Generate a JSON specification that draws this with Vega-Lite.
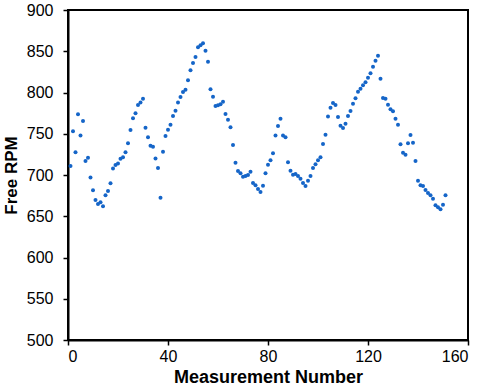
{
  "$schema": "https://vega.github.io/schema/vega-lite/v6.json",
  "width": 400,
  "height": 330,
  "autosize": "none",
  "padding": {"left": 68, "top": 10, "right": 16, "bottom": 46},
  "background": "white",
  "config": {
    "view": {"stroke": "black", "strokeWidth": 2},
    "font": "Liberation Sans"
  },
  "data": {
    "values": [
      {"n": 1, "rpm": 711}, {"n": 2, "rpm": 753}, {"n": 3, "rpm": 727.5}, {"n": 4, "rpm": 773.6}, {"n": 5, "rpm": 748},
      {"n": 6, "rpm": 765.5}, {"n": 7, "rpm": 717}, {"n": 8, "rpm": 721}, {"n": 9, "rpm": 697}, {"n": 10, "rpm": 681.4},
      {"n": 11, "rpm": 669.7}, {"n": 12, "rpm": 665}, {"n": 13, "rpm": 667}, {"n": 14, "rpm": 662}, {"n": 15, "rpm": 675.4},
      {"n": 16, "rpm": 680.6}, {"n": 17, "rpm": 690}, {"n": 18, "rpm": 708}, {"n": 19, "rpm": 712}, {"n": 20, "rpm": 714},
      {"n": 21, "rpm": 719.8}, {"n": 22, "rpm": 721.5}, {"n": 23, "rpm": 727.5}, {"n": 24, "rpm": 738.4}, {"n": 25, "rpm": 754.5},
      {"n": 26, "rpm": 768.7}, {"n": 27, "rpm": 775}, {"n": 28, "rpm": 784.8}, {"n": 29, "rpm": 788}, {"n": 30, "rpm": 792.5},
      {"n": 31, "rpm": 757.3}, {"n": 32, "rpm": 745.7}, {"n": 33, "rpm": 735.6}, {"n": 34, "rpm": 734.3}, {"n": 35, "rpm": 720},
      {"n": 36, "rpm": 708.5}, {"n": 37, "rpm": 672.5}, {"n": 38, "rpm": 728.3}, {"n": 39, "rpm": 747.3}, {"n": 40, "rpm": 755},
      {"n": 41, "rpm": 761}, {"n": 42, "rpm": 771.5}, {"n": 43, "rpm": 778}, {"n": 44, "rpm": 788}, {"n": 45, "rpm": 794.5},
      {"n": 46, "rpm": 800.6}, {"n": 47, "rpm": 803.4}, {"n": 48, "rpm": 815}, {"n": 49, "rpm": 827}, {"n": 50, "rpm": 835.8},
      {"n": 51, "rpm": 843}, {"n": 52, "rpm": 854.8}, {"n": 53, "rpm": 857.2}, {"n": 54, "rpm": 859.6}, {"n": 55, "rpm": 850.7},
      {"n": 56, "rpm": 837.4}, {"n": 57, "rpm": 803.9}, {"n": 58, "rpm": 795}, {"n": 59, "rpm": 783.6}, {"n": 60, "rpm": 784.5},
      {"n": 61, "rpm": 785.7}, {"n": 62, "rpm": 788.9}, {"n": 63, "rpm": 774}, {"n": 64, "rpm": 767}, {"n": 65, "rpm": 757.8},
      {"n": 66, "rpm": 736.4}, {"n": 67, "rpm": 715}, {"n": 68, "rpm": 705}, {"n": 69, "rpm": 702}, {"n": 70, "rpm": 698},
      {"n": 71, "rpm": 698.8}, {"n": 72, "rpm": 700}, {"n": 73, "rpm": 704}, {"n": 74, "rpm": 690.3}, {"n": 75, "rpm": 687.5},
      {"n": 76, "rpm": 683}, {"n": 77, "rpm": 679.4}, {"n": 78, "rpm": 687}, {"n": 79, "rpm": 702}, {"n": 80, "rpm": 712.5},
      {"n": 81, "rpm": 717.8}, {"n": 82, "rpm": 726.3}, {"n": 83, "rpm": 748}, {"n": 84, "rpm": 759.4}, {"n": 85, "rpm": 768.2},
      {"n": 86, "rpm": 748}, {"n": 87, "rpm": 745.7}, {"n": 88, "rpm": 715.4}, {"n": 89, "rpm": 705.3}, {"n": 90, "rpm": 700.4},
      {"n": 91, "rpm": 701.2}, {"n": 92, "rpm": 698.8}, {"n": 93, "rpm": 695.6}, {"n": 94, "rpm": 690.3}, {"n": 95, "rpm": 686.7},
      {"n": 96, "rpm": 693}, {"n": 97, "rpm": 698.8}, {"n": 98, "rpm": 708.5}, {"n": 99, "rpm": 713}, {"n": 100, "rpm": 718},
      {"n": 101, "rpm": 721.5}, {"n": 102, "rpm": 737.6}, {"n": 103, "rpm": 748.8}, {"n": 104, "rpm": 771}, {"n": 105, "rpm": 781.6},
      {"n": 106, "rpm": 787.3}, {"n": 107, "rpm": 784.8}, {"n": 108, "rpm": 770.3}, {"n": 109, "rpm": 759.8}, {"n": 110, "rpm": 757},
      {"n": 111, "rpm": 762.2}, {"n": 112, "rpm": 771.5}, {"n": 113, "rpm": 777.6}, {"n": 114, "rpm": 786.5}, {"n": 115, "rpm": 793},
      {"n": 116, "rpm": 801}, {"n": 117, "rpm": 804.6}, {"n": 118, "rpm": 808.7}, {"n": 119, "rpm": 812.4}, {"n": 120, "rpm": 818},
      {"n": 121, "rpm": 823.2}, {"n": 122, "rpm": 831.3}, {"n": 123, "rpm": 838.6}, {"n": 124, "rpm": 844.6}, {"n": 125, "rpm": 816.7},
      {"n": 126, "rpm": 793.3}, {"n": 127, "rpm": 792.5}, {"n": 128, "rpm": 785.2}, {"n": 129, "rpm": 779.6}, {"n": 130, "rpm": 777.2},
      {"n": 131, "rpm": 768.2}, {"n": 132, "rpm": 761}, {"n": 133, "rpm": 737.2}, {"n": 134, "rpm": 727}, {"n": 135, "rpm": 724.6},
      {"n": 136, "rpm": 738.4}, {"n": 137, "rpm": 748.5}, {"n": 138, "rpm": 739.2}, {"n": 139, "rpm": 717}, {"n": 140, "rpm": 693},
      {"n": 141, "rpm": 687.5}, {"n": 142, "rpm": 686.7}, {"n": 143, "rpm": 681.8}, {"n": 144, "rpm": 678.2}, {"n": 145, "rpm": 675.4},
      {"n": 146, "rpm": 671.3}, {"n": 147, "rpm": 663.3}, {"n": 148, "rpm": 660.8}, {"n": 149, "rpm": 658.4}, {"n": 150, "rpm": 664},
      {"n": 151, "rpm": 675.4}
    ]
  },
  "mark": {"type": "circle", "size": 16, "opacity": 1, "color": "#1565c8"},
  "encoding": {
    "x": {
      "field": "n", "type": "quantitative",
      "scale": {"domain": [0, 160], "nice": false, "zero": false},
      "axis": {
        "title": "Measurement Number", "values": [0, 40, 80, 120, 160],
        "grid": false, "domainColor": "black", "domainWidth": 2,
        "tickColor": "black", "tickSize": 5, "tickWidth": 1.5,
        "labelFontSize": 16, "labelColor": "black", "labelPadding": 3, "labelFont": "Liberation Sans",
        "titleFontSize": 18, "titleFontWeight": "bold", "titleColor": "black", "titlePadding": 4, "titleFont": "Liberation Sans"
      }
    },
    "y": {
      "field": "rpm", "type": "quantitative",
      "scale": {"domain": [500, 900], "nice": false, "zero": false},
      "axis": {
        "title": "Free RPM", "values": [500, 550, 600, 650, 700, 750, 800, 850, 900],
        "grid": false, "domainColor": "black", "domainWidth": 2,
        "tickColor": "black", "tickSize": 5, "tickWidth": 1.5,
        "labelFontSize": 16, "labelColor": "black", "labelPadding": 10, "labelFont": "Liberation Sans",
        "titleFontSize": 17, "titleFontWeight": "bold", "titleColor": "black", "titlePadding": 6, "titleFont": "Liberation Sans"
      }
    }
  }
}
